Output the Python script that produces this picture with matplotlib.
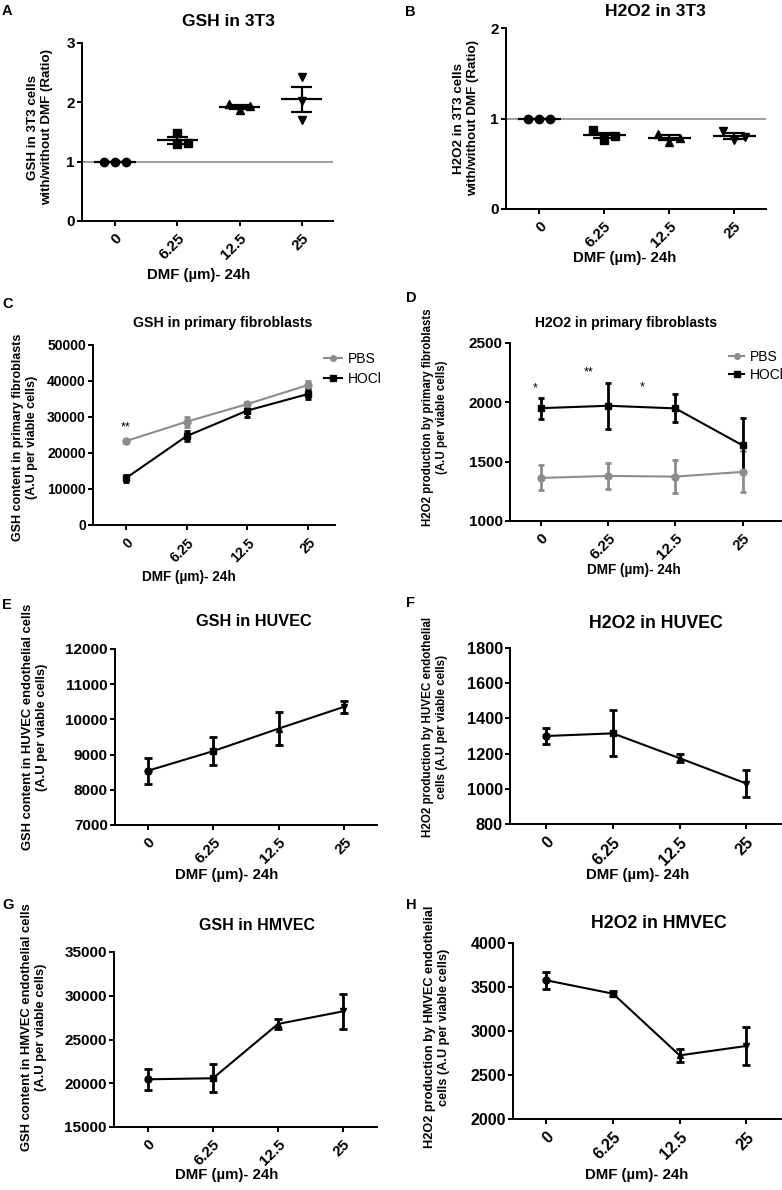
import numpy as np
import matplotlib.pyplot as plt
from matplotlib.lines import Line2D

plt.rcParams['font.family'] = ['Liberation Sans', 'DejaVu Sans']
plt.rcParams['font.weight'] = 'bold'

W, H = 782, 1190

doses = ['0', '6.25', '12.5', '25']
xlabel = 'DMF (\u00b5m)- 24h'

# A / B: ratio with/without DMF, three replicates per dose
gsh_3t3 = [[1.00, 1.00, 1.00], [1.48, 1.30, 1.31], [1.98, 1.93, 1.87], [2.43, 2.02, 1.70]]
h2o2_3t3 = [[1.00, 1.00, 1.00], [0.87, 0.81, 0.76], [0.83, 0.79, 0.74], [0.86, 0.80, 0.76]]

# C: GSH in primary fibroblasts
gsh_fib_pbs = [23300, 28700, 33600, 38900]
gsh_fib_pbs_err = [600, 1400, 500, 1100]
gsh_fib_hocl = [13000, 24700, 31800, 36400]
gsh_fib_hocl_err = [1000, 1500, 1800, 1500]

# D: H2O2 in primary fibroblasts
h2o2_fib_pbs = [1363, 1380, 1374, 1414]
h2o2_fib_pbs_err = [105, 108, 140, 172]
h2o2_fib_hocl = [1951, 1971, 1949, 1637]
h2o2_fib_hocl_err = [89, 195, 118, 235]

# E-H: endothelial cells
gsh_huvec = [8540, 9100, 9740, 10360]
gsh_huvec_err = [370, 400, 475, 170]
h2o2_huvec = [1300, 1315, 1174, 1030]
h2o2_huvec_err = [45, 131, 22, 78]
gsh_hmvec = [20450, 20570, 26780, 28220]
gsh_hmvec_err = [1210, 1590, 590, 2030]
h2o2_hmvec = [3576, 3424, 2723, 2830]
h2o2_hmvec_err = [97, 28, 72, 220]

# significance marks (text, x, y)
stars_c = [('**', 0.0, 27000)]
stars_d = [('*', -0.085, 2114), ('**', 0.715, 2249), ('*', 1.5, 2129)]

x = np.arange(len(doses))
col_markers = ['o', 's', '^', 'v']
grey = '#8c8c8c'

fig = plt.figure(figsize=(W / 100, H / 100), dpi=100)


def box(l, t, r, b):
    return [l / W, 1 - b / H, (r - l) / W, (b - t) / H]


def at(px, py):
    return px / W, 1 - py / H


def new_axes(l, t, r, b, xlim, ylim, yticks, fs):
    ax = fig.add_axes(box(l, t, r, b))
    for s in ('top', 'right'):
        ax.spines[s].set_visible(False)
    for s in ('left', 'bottom'):
        ax.spines[s].set_linewidth(1.4)
    ax.set_xlim(*xlim)
    ax.set_ylim(*ylim)
    ax.set_xticks(x)
    ax.set_xticklabels(doses, rotation=45, ha='right', rotation_mode='anchor')
    ax.set_yticks(yticks)
    ax.tick_params(direction='out', length=3.6, width=1.4, labelsize=fs, pad=1.5)
    ax.tick_params(axis='x', pad=4)
    return ax


# where GraphPad puts overlapping replicates (in units of one marker step)
spread = {1: [0], 2: [1, 0], 3: [-1, 1, 0]}


def dot_panel(ax, groups, tol):
    for i, vals in enumerate(groups):
        v = np.array(vals)
        m = v.mean()
        se = v.std(ddof=1) / np.sqrt(len(v))
        order = np.argsort(-v)
        clusters = [[order[0]]]
        for k in order[1:]:
            if v[clusters[-1][-1]] - v[k] < tol:
                clusters[-1].append(k)
            else:
                clusters.append([k])
        xs = np.full(len(v), float(i))
        for c in clusters:
            for j, k in enumerate(c):
                xs[k] = i + spread[len(c)][j] * 0.17
        ax.plot(xs, v, col_markers[i], color='black', ms=6, zorder=3)
        ax.hlines(m, i - 0.33, i + 0.33, color='black', lw=1.6, zorder=4)
        ax.hlines([m - se, m + se], i - 0.17, i + 0.17, color='black', lw=1.6, zorder=4)
        ax.vlines(i, m - se, m + se, color='black', lw=1.6, zorder=4)
    ax.axhline(1, color=grey, lw=1.2, zorder=1)


def line_panel(ax, y, err, color, markers, capsize):
    ax.errorbar(x, y, yerr=err, color=color, lw=1.5, elinewidth=2,
                capsize=capsize, capthick=2, zorder=3)
    for xi, yi, mk in zip(x, y, markers):
        ax.plot(xi, yi, mk, color=color, ms=5, zorder=4)


def labels(letter, lxy, title, txy, tfs, ylab, yxy, yfs, xxy, xfs):
    fig.text(*at(*lxy), letter, fontsize=10.5, ha='left', va='center')
    fig.text(*at(*txy), title, fontsize=tfs, ha='center', va='center')
    fig.text(*at(*yxy), ylab, fontsize=yfs, ha='center', va='center',
             rotation=90, linespacing=1.15, multialignment='center')
    fig.text(*at(*xxy), xlabel, fontsize=xfs, ha='center', va='center')


# ---- A
ax = new_axes(82, 43, 333, 221, (-0.53, 3.5), (0, 3), [0, 1, 2, 3], 11)
dot_panel(ax, gsh_3t3, 0.12)
labels('A', (2, 11), 'GSH in 3T3', (228, 21), 12.5,
       'GSH in 3T3 cells\nwith/without DMF (Ratio)', (40, 127), 9.6, (199, 275), 10.8)

# ---- B
ax = new_axes(506, 28, 766, 209, (-0.51, 3.49), (0, 2), [0, 1, 2], 11)
dot_panel(ax, h2o2_3t3, 0.08)
labels('B', (405, 12), 'H2O2 in 3T3', (655, 12), 12.5,
       'H2O2 in 3T3 cells\nwith/without DMF (Ratio)', (466, 118), 9.6, (625, 258), 10.8)

# ---- C
ax = new_axes(93, 345, 335, 525, (-0.54, 3.44), (0, 50000), np.arange(0, 50001, 10000), 10)
line_panel(ax, gsh_fib_pbs, gsh_fib_pbs_err, grey, ['o'] * 4, 2.5)
line_panel(ax, gsh_fib_hocl, gsh_fib_hocl_err, 'black', ['s'] * 4, 2.5)
for s, sx, sy in stars_c:
    ax.text(sx, sy, s, fontsize=9, ha='center', va='center', fontweight='normal')
handles = [Line2D([], [], color=grey, marker='o', ms=4, lw=1.5),
           Line2D([], [], color='black', marker='s', ms=4, lw=1.5)]
ax.legend(handles, ['PBS', 'HOCl'], loc='center left', bbox_to_anchor=at(324, 369),
          bbox_transform=fig.transFigure, frameon=False, handlelength=1.3,
          handletextpad=0.4, labelspacing=0.45, borderpad=0, borderaxespad=0,
          prop={'size': 10, 'weight': 'normal'})
labels('C', (2, 304), 'GSH in primary fibroblasts', (223, 323), 10.2,
       'GSH content in primary fibroblasts\n(A.U per viable cells)', (25, 437), 9.0,
       (189, 577), 9.8)

# ---- D
ax = new_axes(510, 343, 781, 521, (-0.46, 3.57), (1000, 2500), np.arange(1000, 2501, 500), 11)
line_panel(ax, h2o2_fib_pbs, h2o2_fib_pbs_err, grey, ['o'] * 4, 2.2)
line_panel(ax, h2o2_fib_hocl, h2o2_fib_hocl_err, 'black', ['s'] * 4, 2.2)
for s, sx, sy in stars_d:
    ax.text(sx, sy, s, fontsize=9, ha='center', va='center', fontweight='normal')
handles = [Line2D([], [], color=grey, marker='o', ms=4, lw=1.5),
           Line2D([], [], color='black', marker='s', ms=4, lw=1.5)]
ax.legend(handles, ['PBS', 'HOCl'], loc='center left', bbox_to_anchor=at(729, 366),
          bbox_transform=fig.transFigure, frameon=False, handlelength=1.1,
          handletextpad=0.4, labelspacing=0.3, borderpad=0, borderaxespad=0,
          prop={'size': 10, 'weight': 'normal'})
labels('D', (406, 298), 'H2O2 in primary fibroblasts', (626, 323), 10.0,
       'H2O2 production by primary fibroblasts\n(A.U per viable cells)', (435, 417), 8.3,
       (634, 570), 9.8)

# ---- E
ax = new_axes(115, 649, 377, 825, (-0.5, 3.5), (7000, 12000), np.arange(7000, 12001, 1000), 11)
line_panel(ax, gsh_huvec, gsh_huvec_err, 'black', col_markers, 3)
labels('E', (2, 605), 'GSH in HUVEC', (254, 621), 11.7,
       'GSH content in HUVEC endothelial cells\n(A.U per viable cells)', (35, 727), 9.4,
       (227, 875), 10.8)

# ---- F
ax = new_axes(510, 648, 781, 824, (-0.54, 3.52), (800, 1800), np.arange(800, 1801, 200), 11.8)
line_panel(ax, h2o2_huvec, h2o2_huvec_err, 'black', col_markers, 3)
labels('F', (406, 603), 'H2O2 in HUVEC', (656, 623), 12.8,
       'H2O2 production by HUVEC endothelial\ncells (A.U per viable cells)', (435, 727), 8.4,
       (638, 875), 10.8)

# ---- G
ax = new_axes(114, 952, 377, 1127, (-0.52, 3.52), (15000, 35000), np.arange(15000, 35001, 5000), 11)
line_panel(ax, gsh_hmvec, gsh_hmvec_err, 'black', col_markers, 3)
labels('G', (2, 905), 'GSH in HMVEC', (257, 926), 11.5,
       'GSH content in HMVEC endothelial cells\n(A.U per viable cells)', (34, 1027), 9.4,
       (227, 1175), 10.8)

# ---- H
ax = new_axes(513, 943, 781, 1119, (-0.5, 3.52), (2000, 4000), np.arange(2000, 4001, 500), 11.5)
line_panel(ax, h2o2_hmvec, h2o2_hmvec_err, 'black', col_markers, 3)
labels('H', (406, 905), 'H2O2 in HMVEC', (659, 923), 12.8,
       'H2O2 production by HMVEC endothelial\ncells (A.U per viable cells)', (437, 1027), 9.2,
       (637, 1175), 10.8)

fig.savefig('out.png', dpi=100)
